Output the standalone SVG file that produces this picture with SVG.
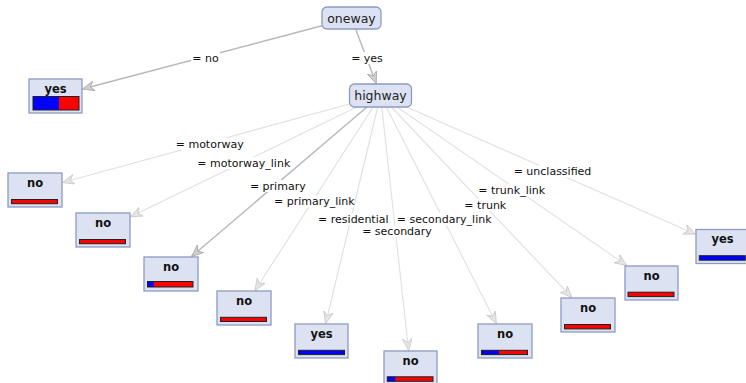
<svg xmlns="http://www.w3.org/2000/svg" width="746" height="383" viewBox="0 0 746 383">
<defs>
<style>
.inner rect{fill:#dce2f2;stroke:#8c9cc0;stroke-width:1.3}
.inner text{font-family:"DejaVu Sans",sans-serif;font-size:12.5px;fill:#222;text-anchor:middle}
.leaf>rect.box{fill:#dce2f2;stroke:#8c9cc0;stroke-width:1.3}
.leaf text{font-family:"DejaVu Sans",sans-serif;font-size:11.5px;font-weight:bold;fill:#111;text-anchor:middle}
.bar{stroke:#222;stroke-width:1}
.b{fill:#0000ff}
.r{fill:#ff0000}
.e{fill:none;stroke:#e0e0e0;stroke-width:1.1;marker-end:url(#al)}
.ed{fill:none;stroke:#b8b8b8;stroke-width:1.4;marker-end:url(#ad)}
.lbl rect{fill:#fff}
.lbl text{font-family:"DejaVu Sans",sans-serif;font-size:11px;fill:#111;text-anchor:middle}
</style>
<marker id="al" markerUnits="userSpaceOnUse" markerWidth="13" markerHeight="11" refX="12" refY="5" orient="auto" viewBox="0 0 13 11">
<path d="M0,0 L12,5 L0,10 L4,5 z" fill="#e6e6e6" stroke="#c8c8c8" stroke-width="0.8"/>
</marker>
<marker id="ad" markerUnits="userSpaceOnUse" markerWidth="13" markerHeight="11" refX="12" refY="5" orient="auto" viewBox="0 0 13 11">
<path d="M0,0 L12,5 L0,10 L4,5 z" fill="#cfcfcf" stroke="#a8a8a8" stroke-width="0.8"/>
</marker>
</defs>
<rect width="746" height="383" fill="#fff"/>
<g id="connectors">
<line class="ed" x1="322" y1="25.8" x2="82.5" y2="89"/>
<line class="ed" x1="355.6" y1="29" x2="376.2" y2="83.5"/>
<line class="e" x1="349.5" y1="104" x2="62.5" y2="182.5"/>
<line class="e" x1="356.8" y1="107" x2="130.5" y2="216.8"/>
<line class="ed" x1="367" y1="107" x2="191.5" y2="256.5"/>
<line class="e" x1="373.1" y1="107" x2="255" y2="290.5"/>
<line class="e" x1="377.7" y1="107" x2="325.7" y2="323.5"/>
<line class="e" x1="381.8" y1="107" x2="408.6" y2="350.5"/>
<line class="e" x1="386.3" y1="107" x2="496.3" y2="323.5"/>
<line class="e" x1="391.4" y1="107" x2="571.8" y2="297.5"/>
<line class="e" x1="397.1" y1="107" x2="626.7" y2="265.5"/>
<line class="e" x1="406.6" y1="107" x2="695.5" y2="234.2"/>
<g class="lbl">
<rect x="191" y="52" width="29" height="12"/><text x="205.5" y="61.5">= no</text>
<rect x="350" y="52" width="34" height="12"/><text x="367" y="61.5">= yes</text>
<rect x="175" y="138" width="70" height="12"/><text x="209.7" y="147.5">= motorway</text>
<rect x="198" y="157" width="92" height="12"/><text x="243.8" y="166.5">= motorway_link</text>
<rect x="249" y="180" width="58" height="12"/><text x="277.8" y="189.5">= primary</text>
<rect x="275" y="195.5" width="79" height="12"/><text x="314.3" y="205">= primary_link</text>
<rect x="319" y="213" width="68" height="12"/><text x="353.3" y="222.5">= residential</text>
<rect x="363" y="225.5" width="68" height="12"/><text x="397" y="235">= secondary</text>
<rect x="398" y="213" width="92" height="12"/><text x="444.2" y="222.5">= secondary_link</text>
<rect x="465" y="199" width="41" height="12"/><text x="485.3" y="208.5">= trunk</text>
<rect x="484" y="184.5" width="55" height="12"/><text x="511.7" y="194">= trunk_link</text>
<rect x="515" y="165.5" width="75" height="12"/><text x="552.5" y="175">= unclassified</text>
</g>
</g>
<g id="n-oneway" class="inner"><rect x="322" y="7" width="59" height="22" rx="5"/><text x="351.5" y="22.5">oneway</text></g>
<g id="n-highway" class="inner"><rect x="349.5" y="84" width="62" height="23" rx="5"/><text x="380.5" y="100">highway</text></g>
<g id="leaf-oneway-no" class="leaf"><rect class="box" x="29" y="79" width="53" height="34"/><text x="55.5" y="92.5">yes</text>
<rect class="b" x="33" y="96.5" width="26" height="13.5"/><rect class="r" x="59" y="96.5" width="20" height="13.5"/><rect class="bar" fill="none" x="33" y="96.5" width="46" height="13.5"/></g>
<g id="leaf-motorway" class="leaf"><rect class="box" x="8" y="173" width="54" height="34"/><text x="35" y="186.5">no</text>
<rect class="bar r" x="11.5" y="199.5" width="46" height="4.2"/></g>
<g id="leaf-motorway_link" class="leaf"><rect class="box" x="76" y="213" width="54" height="34"/><text x="103" y="226.5">no</text>
<rect class="bar r" x="79.5" y="239.5" width="46" height="4.2"/></g>
<g id="leaf-primary" class="leaf"><rect class="box" x="144" y="257" width="54" height="34"/><text x="171" y="270.5">no</text>
<rect class="r" x="147.5" y="281.5" width="45.5" height="5.5"/><rect class="b" x="147.5" y="281.5" width="6.3" height="5.5"/><rect class="bar" fill="none" x="147.5" y="281.5" width="45.5" height="5.5"/></g>
<g id="leaf-primary_link" class="leaf"><rect class="box" x="217" y="291" width="54" height="34"/><text x="244" y="304.5">no</text>
<rect class="bar r" x="220.5" y="317.3" width="46" height="4.2"/></g>
<g id="leaf-residential" class="leaf"><rect class="box" x="295" y="324" width="53" height="34"/><text x="321.5" y="337.5">yes</text>
<rect class="bar b" x="298.5" y="350.3" width="46" height="4.3"/></g>
<g id="leaf-secondary" class="leaf"><rect class="box" x="384" y="351" width="53" height="34"/><text x="410.5" y="364.5">no</text>
<rect class="r" x="387.3" y="376.8" width="45.7" height="4.5"/><rect class="b" x="387.3" y="376.8" width="8" height="4.5"/><rect class="bar" fill="none" x="387.3" y="376.8" width="45.7" height="4.5"/></g>
<g id="leaf-secondary_link" class="leaf"><rect class="box" x="478" y="324" width="54" height="34"/><text x="505" y="337.5">no</text>
<rect class="r" x="481.5" y="350.3" width="46" height="4.3"/><rect class="b" x="481.5" y="350.3" width="17.5" height="4.3"/><rect class="bar" fill="none" x="481.5" y="350.3" width="46" height="4.3"/></g>
<g id="leaf-trunk" class="leaf"><rect class="box" x="561" y="298" width="54" height="34"/><text x="588" y="311.5">no</text>
<rect class="bar r" x="564.5" y="324.5" width="46" height="4.4"/></g>
<g id="leaf-trunk_link" class="leaf"><rect class="box" x="625" y="266" width="53" height="34"/><text x="651.5" y="279.5">no</text>
<rect class="bar r" x="628" y="292.2" width="46" height="4.4"/></g>
<g id="leaf-unclassified" class="leaf"><rect class="box" x="696" y="229.5" width="54" height="34"/><text x="722.5" y="243">yes</text>
<rect class="bar b" x="699.3" y="255.7" width="46" height="4.5"/></g>
</svg>
